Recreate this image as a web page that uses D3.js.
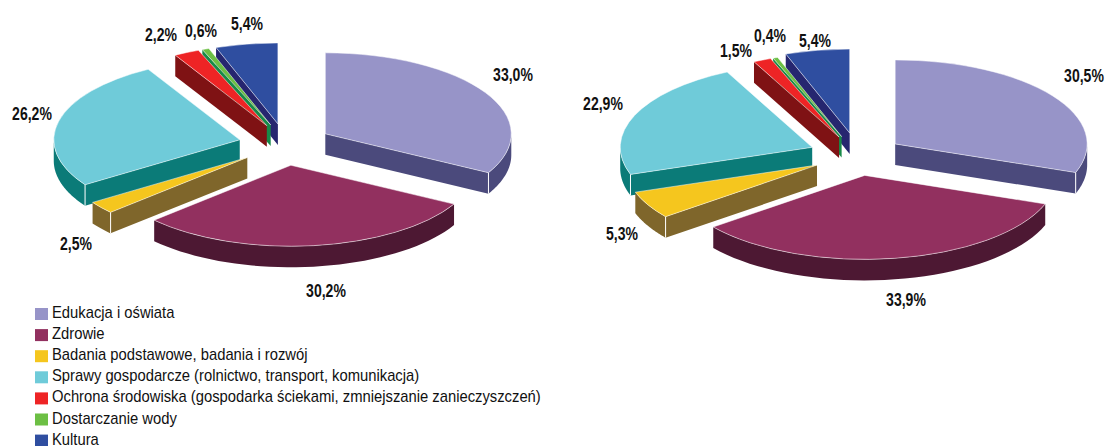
<!DOCTYPE html>
<html>
<head>
<meta charset="utf-8">
<script src="https://cdn.jsdelivr.net/npm/d3@7"></script>
<style>
  body { margin: 0; background: #fff; }
  text { font-family: "Liberation Sans", sans-serif; fill: #111; }
</style>
</head>
<body>
<svg id="chart" width="1105" height="446"></svg>
<script>
const categories = [
  "Edukacja i oświata",
  "Zdrowie",
  "Badania podstawowe, badania i rozwój",
  "Sprawy gospodarcze (rolnictwo, transport, komunikacja)",
  "Ochrona środowiska (gospodarka ściekami, zmniejszanie zanieczyszczeń)",
  "Dostarczanie wody",
  "Kultura"
];
const values_left = [33.0, 30.2, 2.5, 26.2, 2.2, 0.6, 5.4];
const values_right = [30.5, 33.9, 5.3, 22.9, 1.5, 0.4, 5.4];

const top_colors = ["#9794c8", "#92305f", "#f5c61e", "#6fcbd9", "#ee2425", "#6cbf44", "#2f4ea0"];
const side_colors = ["#4b4a7c", "#4d1833", "#7f662b", "#0b7b78", "#7f1214", "#178a48", "#26266f"];

// where each percent label sits, [x, baseline]
const label_pos_left = [[513, 81], [326, 297], [76, 250], [32, 120], [161, 41], [201, 37], [247, 30]];
const label_pos_right = [[1084, 82], [906, 306], [622, 240], [603, 110], [736, 57], [770, 42], [815, 47]];
// how far each slice is pulled out of the pie, and a small sideways correction
const explode_left = [48, 48, 48, 46.5, 48, 48, 48];
const explode_right = [46, 46, 46, 49, 46, 46, 52];
const shift_left = [-1, 0, 0, 0, 2.5, 2.5, 1];
const shift_right = [0, 0, 0, 0, 0, 0, 1];

const svg = d3.select("#chart");
const pct = d3.formatLocale({decimal: ",", thousands: " ", grouping: [3], currency: ["", ""]}).format(".1f");
const color = d3.scaleOrdinal().domain(categories).range(top_colors);
const side_color = d3.scaleOrdinal().domain(categories).range(side_colors);

function draw_pie(values, opts) {
  const pie = d3.pie().sort(null).value(d => d.value);
  const arcs = pie(values.map((v, i) => ({value: v, name: categories[i]})));
  const k = opts.ry / opts.rx;
  const arc = d3.arc().innerRadius(0).outerRadius(opts.rx);
  const g = svg.append("g");

  const wall = d3.area()
    .x(p => p[0])
    .y0(p => p[1])
    .y1(p => p[1] + opts.depth);

  // back slices first, so a slice covers the wall of the one behind it
  arcs.slice().reverse().forEach(d => {
    let mid = (d.startAngle + d.endAngle) / 2,
      e = opts.explode[d.index],
      ax = opts.cx + e * Math.sin(mid) + opts.shift[d.index],
      ay = opts.cy - e * Math.cos(mid) * k;
    let on_rim = a => [ax + opts.rx * Math.sin(a), ay - opts.ry * Math.cos(a)];
    let slice = g.append("g");
    let side = side_color(d.data.name);
    let corner = null;

    // radial walls only show when they face down
    if (d.endAngle < Math.PI) {
      slice.append("path").attr("d", wall([[ax, ay], on_rim(d.endAngle)])).attr("fill", side);
      corner = on_rim(d.endAngle);
    }
    if (d.startAngle > Math.PI) {
      slice.append("path").attr("d", wall([[ax, ay], on_rim(d.startAngle)])).attr("fill", side);
      corner = on_rim(d.startAngle);
    }
    // outer wall, front half of the ellipse only
    let a0 = Math.max(d.startAngle, Math.PI / 2), a1 = Math.min(d.endAngle, Math.PI * 1.5);
    if (a0 < a1) {
      let steps = d3.range(0, 41).map(i => on_rim(a0 + (a1 - a0) * i / 40));
      slice.append("path").attr("d", wall(steps)).attr("fill", side);
      // thin light line where the two walls meet
      if (corner) {
        slice.append("line")
          .attr("x1", corner[0]).attr("y1", corner[1])
          .attr("x2", corner[0]).attr("y2", corner[1] + opts.depth)
          .attr("stroke", "#fff").attr("stroke-width", 1);
      }
    }
    slice.append("path")
      .attr("d", arc(d))
      .attr("transform", `translate(${ax},${ay}) scale(1,${k})`)
      .attr("fill", color(d.data.name))
      .attr("stroke", "#fff")
      .attr("stroke-width", 0.5)
      .attr("vector-effect", "non-scaling-stroke");
  });

  // labels are squeezed sideways to get the narrow look of the original
  arcs.forEach((d, i) => {
    g.append("text")
      .attr("transform", `translate(${opts.labels[i][0]},${opts.labels[i][1]}) scale(0.78,1)`)
      .attr("text-anchor", "middle")
      .attr("font-size", 18)
      .attr("font-weight", "bold")
      .text(pct(d.data.value) + "%");
  });
}

draw_pie(values_left, {cx: 285, cy: 144.5, rx: 186, ry: 81, depth: 21, explode: explode_left, shift: shift_left, labels: label_pos_left});
draw_pie(values_right, {cx: 857.5, cy: 155.5, rx: 192, ry: 84, depth: 21, explode: explode_right, shift: shift_right, labels: label_pos_right});

// legend
const legend = svg.append("g").selectAll("g")
  .data(categories).enter()
  .append("g")
  .attr("transform", (d, i) => `translate(35,${308 + i * 21.1})`);
legend.append("rect")
  .attr("width", 13)
  .attr("height", 12)
  .attr("fill", d => color(d));
legend.append("text")
  .attr("transform", "translate(17,10) scale(0.87,1)")
  .attr("font-size", 17)
  .text(d => d);
</script>
</body>
</html>
